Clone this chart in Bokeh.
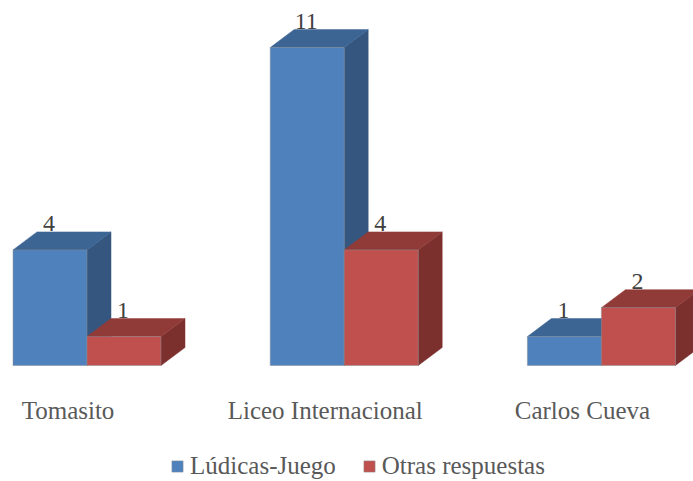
from bokeh.embed import file_html
from bokeh.resources import INLINE
from bokeh.plotting import figure
from bokeh.models import ColumnDataSource, Legend, LegendItem, Range1d
from bokeh.core.properties import value

schools = ["Tomasito", "Liceo Internacional", "Carlos Cueva"]
ludicas = [4, 11, 1]
otras = [1, 4, 2]
series_names = ["Lúdicas-Juego", "Otras respuestas"]

WIDTH, HEIGHT = 693, 481
BASE_PX = 365
UNIT_Y = 28.9      # pixels per answer
UNIT_X = 257.2     # pixels per school
FIRST_X = 86.5
BAR_W = 74 / UNIT_X
DX = 24 / UNIT_X   # oblique depth of the 3D boxes
DY = 18 / UNIT_Y
FONT = "Liberation Serif"
TEXT = "#595959"

p = figure(
    width=WIDTH, height=HEIGHT, output_backend="svg", toolbar_location=None,
    x_range=Range1d(-FIRST_X / UNIT_X, (WIDTH - FIRST_X) / UNIT_X),
    y_range=Range1d(-(HEIGHT - BASE_PX) / UNIT_Y, BASE_PX / UNIT_Y),
    min_border=0, outline_line_color=None,
    x_axis_location=None, y_axis_location=None,
)
p.grid.visible = False


def boxes(values, lo, front, top, side):
    """Draw one series of oblique boxes, its value labels, and return the front glyph."""
    n = len(values)
    xs = [i + lo for i in range(n)]
    xe = [x + BAR_W for x in xs]
    side_xs = [[b, b + DX, b + DX, b] for b in xe]
    side_ys = [[0, DY, v + DY, v] for v in values]
    top_xs = [[a, a + DX, b + DX, b] for a, b in zip(xs, xe)]
    top_ys = [[v, v + DY, v + DY, v] for v in values]
    p.patches(side_xs, side_ys, fill_color=side, line_color=side, line_width=0.5)
    p.patches(top_xs, top_ys, fill_color=top, line_color=top, line_width=0.5)
    front_src = ColumnDataSource(dict(left=xs, right=xe, top=values, bottom=[0] * n))
    r = p.quad(left="left", right="right", top="top", bottom="bottom", source=front_src,
               fill_color=front, line_color="#8a8f96", line_width=0.5)
    label_src = ColumnDataSource(dict(
        x=[(a + b) / 2 for a, b in zip(xs, xe)],
        y=[v + DY for v in values],
        t=[str(v) for v in values],
    ))
    p.text(x="x", y="y", text="t", source=label_src, text_align="center",
           text_baseline="alphabetic", text_color="#404040", x_offset=-1, y_offset=-8,
           text_font=value(FONT), text_font_size="24px")
    return r


r1 = boxes(ludicas, -BAR_W, "#4f81bd", "#3d6594", "#34567f")
r2 = boxes(otras, 0, "#c0504d", "#913b39", "#7c302e")

# School names sit under the chart, shifted left of each bar pair
name_src = ColumnDataSource(dict(
    x=[i - 19 / UNIT_X for i in range(len(schools))],
    y=[-53 / UNIT_Y] * len(schools),
    t=schools,
))
p.text(x="x", y="y", text="t", source=name_src, text_align="center",
       text_baseline="alphabetic", text_color=TEXT, y_offset=-8,
       text_font=value(FONT), text_font_size="25px")

legend = Legend(
    items=[LegendItem(label=series_names[0], renderers=[r1]),
           LegendItem(label=series_names[1], renderers=[r2])],
    orientation="horizontal", location=(170, 1),
    glyph_width=14, glyph_height=14, label_standoff=6, spacing=26,
    label_text_font=FONT, label_text_font_size="25px", label_text_color=TEXT,
    border_line_color=None, background_fill_alpha=0, margin=0, padding=4,
)
p.add_layout(legend, "center")

open("out.html", "w").write(file_html(p, INLINE))
